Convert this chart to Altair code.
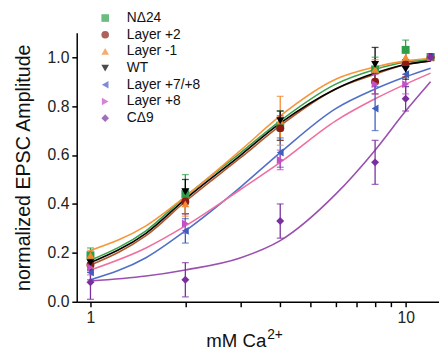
import altair as alt
import pandas as pd

series = ["NΔ24", "Layer +2", "Layer -1", "WT", "Layer +7/+8", "Layer +8", "CΔ9"]
marker_colors = ["#2e9e48", "#8c1c13", "#f7882f", "#000000", "#3f5fbf", "#c550c5", "#7b2f9e"]
line_colors = ["#3aa04a", "#b0582a", "#f8953a", "#000000", "#5070c8", "#f06ea0", "#9a50b0"]
shapes = ["square", "circle", "triangle-up", "triangle-down", "triangle-left", "triangle-right", "diamond"]

conc = [1, 2, 4, 8, 10, 12]
means = {
    "NΔ24":        [0.19, 0.44, 0.72, 0.95, 1.03, 1.00],
    "Layer +2":    [0.15, 0.41, 0.71, 0.90, 0.97, 1.00],
    "Layer -1":    [0.19, 0.40, 0.74, 0.95, 1.00, 1.00],
    "WT":          [0.16, 0.45, 0.74, 0.97, 0.95, 1.00],
    "Layer +7/+8": [0.12, 0.29, 0.61, 0.79, 0.93, 1.00],
    "Layer +8":    [0.14, 0.32, 0.58, 0.89, 0.89, 1.00],
    "CΔ9":         [0.08, 0.09, 0.33, 0.57, 0.83, 1.00],
}
errs = {
    "NΔ24":        [0.03, 0.08, 0.06, 0.05, 0.04, 0.0],
    "Layer +2":    [0.03, 0.05, 0.05, 0.05, 0.05, 0.0],
    "Layer -1":    [0.02, 0.05, 0.10, 0.04, 0.03, 0.0],
    "WT":          [0.03, 0.05, 0.04, 0.07, 0.04, 0.0],
    "Layer +7/+8": [0.03, 0.05, 0.06, 0.09, 0.05, 0.0],
    "Layer +8":    [0.03, 0.04, 0.04, 0.04, 0.04, 0.0],
    "CΔ9":         [0.07, 0.07, 0.07, 0.09, 0.05, 0.01],
}

curve_x = [1, 1.5, 2, 3, 4, 6, 8, 10, 12]
curve_y = {
    "NΔ24":        [0.17, 0.29, 0.43, 0.61, 0.74, 0.89, 0.95, 0.98, 0.99],
    "Layer +2":    [0.15, 0.27, 0.41, 0.59, 0.72, 0.87, 0.93, 0.97, 0.985],
    "Layer -1":    [0.21, 0.31, 0.43, 0.62, 0.76, 0.91, 0.96, 0.985, 0.995],
    "WT":          [0.16, 0.28, 0.42, 0.60, 0.73, 0.87, 0.935, 0.97, 0.985],
    "Layer +7/+8": [0.09, 0.18, 0.29, 0.47, 0.61, 0.79, 0.87, 0.92, 0.955],
    "Layer +8":    [0.13, 0.22, 0.31, 0.46, 0.57, 0.74, 0.83, 0.89, 0.935],
    "CΔ9":         [0.085, 0.105, 0.13, 0.18, 0.25, 0.44, 0.62, 0.78, 0.90],
}

x_ticks = [1, 2, 3, 4, 5, 6, 7, 8, 9, 10]
y_ticks = [0.0, 0.2, 0.4, 0.6, 0.8, 1.0]

# build tables
pts, caps, curves = [], [], []
for i, s in enumerate(series):
    for x, m, e in zip(conc, means[s], errs[s]):
        pts.append({"series": s, "x": x, "y": m, "lo": m - e, "hi": m + e, "mc": marker_colors[i]})
        caps.append({"series": s, "x": x, "yv": m - e, "mc": marker_colors[i]})
        caps.append({"series": s, "x": x, "yv": m + e, "mc": marker_colors[i]})
    for x, y in zip(curve_x, curve_y[s]):
        curves.append({"series": s, "x": x, "y": y, "lc": line_colors[i], "order": i})
pts = pd.DataFrame(pts)
caps = pd.DataFrame(caps)
curves = pd.DataFrame(curves)

xscale = alt.Scale(type="log", domain=[0.9045, 12.76], nice=False)
yscale = alt.Scale(domain=[0, 1.1], nice=False, zero=False)

xaxis = alt.Axis(values=x_ticks, title=None,
                 labelExpr="datum.value == 1 ? '1' : (datum.value == 10 ? '10' : '')",
                 labelFontSize=16, tickSize=5, labelPadding=3, labelFlush=False)
yaxis = alt.Axis(values=y_ticks, format=".1f", title="normalized EPSC Amplitude",
                 labelFontSize=16, tickSize=5, labelPadding=3,
                 titleFontSize=20, titleFontWeight="normal", titlePadding=14)

lines = alt.Chart(curves).mark_line(interpolate="monotone", strokeWidth=1.6).encode(
    x=alt.X("x:Q", scale=xscale, axis=xaxis),
    y=alt.Y("y:Q", scale=yscale, axis=yaxis),
    detail="series:N",
    color=alt.Color("lc:N", scale=None),
)

bars = alt.Chart(pts).mark_rule(strokeWidth=1.3).encode(
    x="x:Q", y="lo:Q", y2="hi:Q",
    color=alt.Color("mc:N", scale=None),
)

capm = alt.Chart(caps).mark_tick(orient="horizontal", size=7, thickness=1.3).encode(
    x="x:Q", y="yv:Q",
    color=alt.Color("mc:N", scale=None),
)

points = alt.Chart(pts).mark_point(filled=True, size=65, opacity=1).encode(
    x="x:Q", y="y:Q",
    color=alt.Color("series:N", scale=alt.Scale(domain=series, range=marker_colors), title=None),
    shape=alt.Shape("series:N", scale=alt.Scale(domain=series, range=shapes), title=None),
)

title_df = pd.DataFrame({"t": ["mM Ca"], "s": ["2+"]})
xt = alt.Chart(title_df).mark_text(align="left", baseline="alphabetic", fontSize=19,
                                   font="Liberation Sans", color="#111").encode(
    text="t:N", x=alt.value(132), y=alt.value(320))
xs = alt.Chart(title_df).mark_text(align="left", baseline="alphabetic", fontSize=14,
                                   font="Liberation Sans", color="#111").encode(
    text="s:N", x=alt.value(194), y=alt.value(312))

chart = alt.layer(lines, bars, capm, points, xt, xs).properties(
    width=369, height=274, padding={"left": 5, "top": 0, "right": 0, "bottom": 0},
    background="white"
).configure_view(stroke=None).configure_axis(
    grid=False, domainColor="#000", domainWidth=1.5, tickColor="#000", tickWidth=1.5,
    labelColor="#222", titleColor="#111", labelFont="Liberation Sans", titleFont="Liberation Sans",
).configure_legend(
    orient="none", legendX=22, legendY=-22, padding=0, labelFontSize=14,
    labelFont="Liberation Sans", labelColor="#111", symbolSize=60, rowPadding=3,
    labelOffset=15, symbolStrokeWidth=0,
)

chart.save("out.html", embed_options={"renderer": "svg", "actions": False})
